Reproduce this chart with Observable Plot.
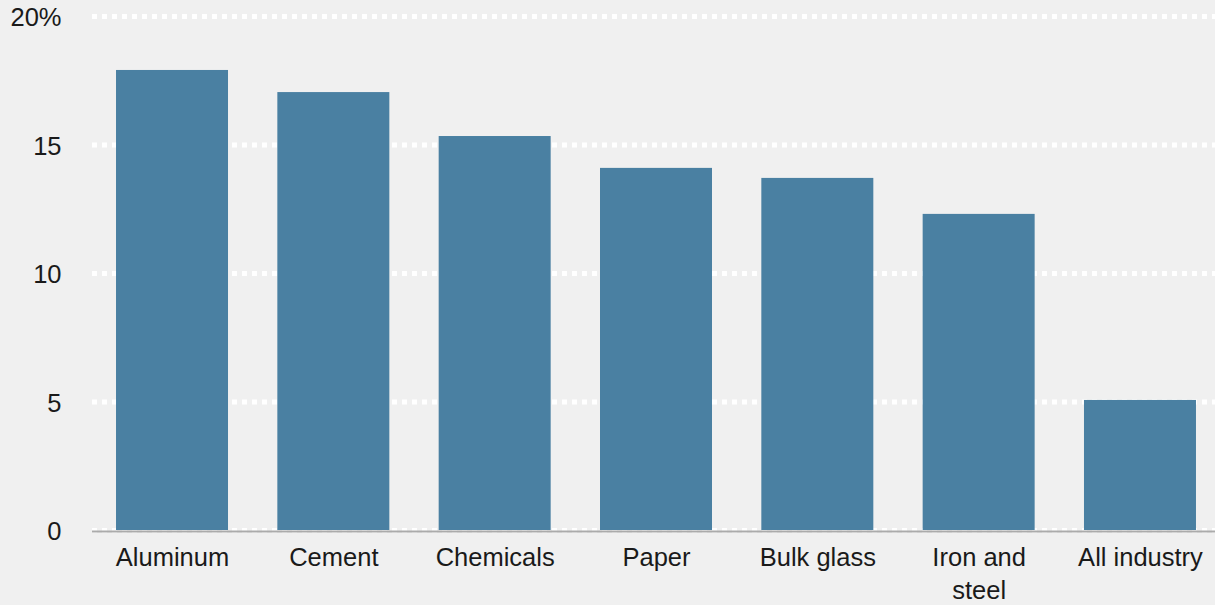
<!DOCTYPE html>
<html>
<head>
<meta charset="utf-8">
<script src="https://cdn.jsdelivr.net/npm/d3@7"></script>
<script src="https://cdn.jsdelivr.net/npm/@observablehq/plot@0.6"></script>
<style>
  html, body { margin: 0; padding: 0; background: #f0f0f0; }
  #chart { width: 1215px; height: 605px; overflow: hidden; }
</style>
</head>
<body>
<div id="chart"></div>
<script>
// Share of energy use, by industry (percent)
const categories = ["Aluminum", "Cement", "Chemicals", "Paper", "Bulk glass", "Iron and steel", "All industry"];
const shares = [17.9, 17.04, 15.33, 14.09, 13.70, 12.30, 5.06];
const xLabels = ["Aluminum", "Cement", "Chemicals", "Paper", "Bulk glass", "Iron and\nsteel", "All industry"];
const yTicks = [0, 5, 10, 15, 20];
const yTickLabels = ["0", "5", "10", "15", "20%"];

const rows = categories.map((c, i) => ({category: c, share: shares[i], label: xLabels[i]}));

const chart = Plot.plot({
  width: 1215,
  height: 605,
  marginLeft: 92,
  marginRight: 0,
  marginTop: 16,
  marginBottom: 75,
  style: {
    background: "#f0f0f0",
    fontFamily: "'Liberation Sans', Arial, sans-serif",
    fontSize: "25.5px",
    color: "#1a1a1a"
  },
  x: {
    type: "band",
    domain: categories,
    paddingInner: 0.3058,
    paddingOuter: 0.1334,
    align: 0.558,
    round: false,
    axis: null
  },
  y: {domain: [0, 20], axis: null},
  marks: [
    Plot.ruleY(yTicks, {stroke: "white", strokeWidth: 5, strokeDasharray: "5,5"}),
    Plot.barY(rows, {x: "category", y: "share", fill: "#4a80a2"}),
    Plot.ruleY([0], {stroke: "#ababab", strokeWidth: 2, dy: 1}),
    Plot.axisY(yTicks, {
      label: null,
      tickSize: 0,
      tickPadding: 31,
      tickFormat: (d) => yTickLabels[yTicks.indexOf(d)],
      dy: 1.5
    }),
    Plot.text(rows, {
      x: "category",
      y: () => 0,
      text: "label",
      lineAnchor: "top",
      lineHeight: 1.33,
      dy: 11,
      fill: "#1a1a1a"
    })
  ]
});

document.getElementById("chart").append(chart);
</script>
</body>
</html>
